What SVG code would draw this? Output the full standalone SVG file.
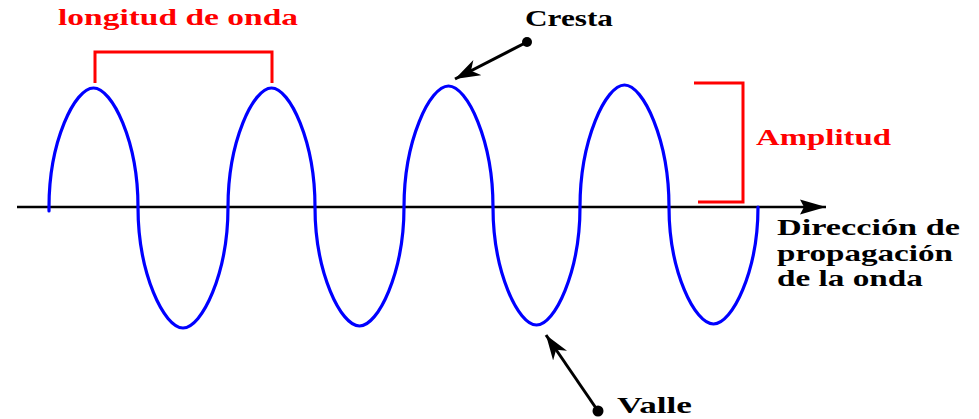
<svg xmlns="http://www.w3.org/2000/svg" width="979" height="419" viewBox="0 0 979 419">
  <style>
    .lbl { font-family: "Liberation Serif", "Times New Roman", serif; font-weight: bold; font-size: 23px; }
    .red { fill: #ff0000; }
    .blk { fill: #000000; }
    .bracket { fill: none; stroke: #ff0000; stroke-width: 3; stroke-linejoin: miter; }
    .wave { fill: none; stroke: #0000ff; stroke-width: 3.2; stroke-linecap: round; }
    .axis { stroke: #000000; stroke-width: 2.5; }
    .ptr { stroke: #000000; stroke-width: 3; }
  </style>
  <defs>
    <marker id="ptrHead" viewBox="-25 -9 25 18" refX="0" refY="0" markerWidth="25" markerHeight="18" orient="auto" markerUnits="userSpaceOnUse">
      <path d="M0,0 L-25,-8.5 L-18,0 L-25,8.5 Z" fill="#000000"/>
    </marker>
    <marker id="axisHead" viewBox="-26 -8 26 16" refX="0" refY="0" markerWidth="26" markerHeight="16" orient="auto" markerUnits="userSpaceOnUse">
      <path d="M0,0 L-26,-7.5 L-22,0 L-26,7.5 Z" fill="#000000"/>
    </marker>
  </defs>
  <rect width="979" height="419" fill="#ffffff"/>

  <g id="axis">
    <line class="axis" x1="17" y1="207" x2="826" y2="207" marker-end="url(#axisHead)"/>
  </g>

  <g id="wave">
    <path class="wave" d="M49,211 L49,207
      C49,141.5 74.8,88 93.5,88 C112.2,88 138,141.5 138,207
      C138,273.6 164.1,328 183,328 C201.9,328 228,273.6 228,207
      C228,141.5 253.2,88 271.5,88 C289.8,88 315,141.5 315,207
      C315,272.5 340.8,326 359.5,326 C378.2,326 404,272.5 404,207
      C404,140.5 429.8,86 448.5,86 C467.2,86 493,140.5 493,207
      C493,271.9 518.2,325 536.5,325 C554.8,325 580,271.9 580,207
      C580,139.9 605.8,85 624.5,85 C643.2,85 669,139.9 669,207
      C669,271.4 694.8,324 713.5,324 C732.2,324 758,271.4 758,207"/>
  </g>

  <g id="wavelength">
    <polyline class="bracket" points="95,83 95,52 272,52 272,83"/>
    <text class="lbl red" x="58" y="25" textLength="240" lengthAdjust="spacingAndGlyphs">longitud de onda</text>
  </g>

  <g id="amplitude">
    <polyline class="bracket" points="694,83 743,83 743,202 698,202"/>
    <text class="lbl red" x="756" y="145" textLength="135" lengthAdjust="spacingAndGlyphs">Amplitud</text>
  </g>

  <g id="crest">
    <circle cx="527" cy="42" r="5" fill="#000000"/>
    <text class="lbl blk" x="525" y="26" textLength="88" lengthAdjust="spacingAndGlyphs">Cresta</text>
  </g>

  <g id="trough">
    <circle cx="598" cy="411" r="5.5" fill="#000000"/>
    <text class="lbl blk" x="617" y="413" textLength="75" lengthAdjust="spacingAndGlyphs">Valle</text>
  </g>

  <g id="direction">
    <text class="lbl blk" x="777" y="235" textLength="183" lengthAdjust="spacingAndGlyphs">Dirección de</text>
    <text class="lbl blk" x="777" y="261" textLength="176" lengthAdjust="spacingAndGlyphs">propagación</text>
    <text class="lbl blk" x="777" y="286" textLength="146" lengthAdjust="spacingAndGlyphs">de la onda</text>
  </g>

  <g id="connectors">
    <line class="ptr" x1="527" y1="42" x2="455" y2="79" marker-end="url(#ptrHead)"/>
    <line class="ptr" x1="598" y1="411" x2="546" y2="335" marker-end="url(#ptrHead)"/>
  </g>
</svg>
